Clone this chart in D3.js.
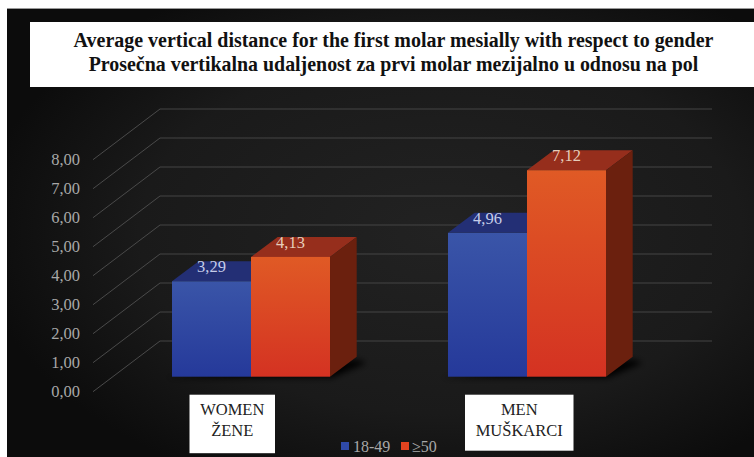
<!DOCTYPE html>
<html><head><meta charset="utf-8">
<script src="https://cdn.jsdelivr.net/npm/d3@7"></script>
<style>html,body{margin:0;padding:0;background:#fff;overflow:hidden}svg{display:block}</style>
</head><body><svg id="c" width="754" height="457"></svg>
<script>
const titleLines = ["Average vertical distance for the first molar mesially with respect to gender","Prosečna vertikalna udaljenost za prvi molar mezijalno u odnosu na pol"];
const categories = ["women","men"];
const categoryLines = [["WOMEN","ŽENE"],["MEN","MUŠKARCI"]];
const seriesNames = ["18-49","≥50"];
const values1849 = [3.29,4.96];
const values50 = [4.13,7.12];
const yTicks = [0,1,2,3,4,5,6,7,8];

const fmt = v => d3.format(".2f")(v).replace(".", ",");
const svg = d3.select("#c"), defs = svg.append("defs");
const grad = (id, a, b) => { const g = defs.append("linearGradient").attr("id", id).attr("x1",0).attr("x2",0).attr("y1",0).attr("y2",1);
  g.append("stop").attr("offset",0).attr("stop-color",a); g.append("stop").attr("offset",1).attr("stop-color",b); };
grad("gb","#3a55a8","#25399a"); grad("gr","#e05a25","#d43222");
const rg = defs.append("radialGradient").attr("id","bg").attr("cx",.58).attr("cy",.5).attr("r",.62);
rg.append("stop").attr("offset",0).attr("stop-color","#222222");
rg.append("stop").attr("offset",.65).attr("stop-color","#1a1a1a");
rg.append("stop").attr("offset",1).attr("stop-color","#0c0c0c");
defs.append("filter").attr("id","blur").attr("x","-20%").attr("y","-100%").attr("width","140%").attr("height","300%")
  .append("feGaussianBlur").attr("stdDeviation",3);

// frame
svg.append("rect").attr("x",7).attr("y",8).attr("width",747).attr("height",449).attr("fill","url(#bg)");
svg.append("rect").attr("x",7).attr("y",8).attr("width",747).attr("height",1).attr("fill","#999");

const y = d3.scaleLinear().domain([0,8]).range([376.7,144.7]);
const x0 = d3.scaleBand().domain(categories).range([172,606]).paddingInner(0.4275).paddingOuter(0);
const x1 = d3.scaleBand().domain(seriesNames).range([0,x0.bandwidth()]);

// walls
const frontDy = 15, backDy = -35.7, wallL = 160, wallR = 712, tickX = 93;
const grid = svg.append("g").attr("fill","none");
grid.selectAll(".side").data(yTicks).join("line").attr("x1",tickX).attr("y1",d=>y(d)+frontDy).attr("x2",wallL).attr("y2",d=>y(d)+backDy)
  .attr("stroke","#4a4a4a").attr("stroke-width",1);
grid.selectAll(".back").data(yTicks).join("line").attr("x1",wallL).attr("x2",wallR).attr("y1",d=>y(d)+backDy).attr("y2",d=>y(d)+backDy)
  .attr("stroke","#444444").attr("stroke-width",1.2);

// y axis labels
const ax = svg.append("g").attr("transform",`translate(80,${frontDy})`)
  .call(d3.axisLeft(y).tickValues(yTicks).tickFormat(fmt).tickSize(0).tickPadding(0));
ax.select(".domain").remove();
ax.selectAll("text").attr("font-family","'Liberation Serif',serif").attr("font-size",16.5).attr("fill","#a8a8a8");

// bars
const depthX = 26.7, depthY = 20;
const pts = a => a.map(p=>p.join(",")).join(" ");
const styles = {"18-49":{fill:"url(#gb)",top:"#232f75",side:"#1c2660",label:"#c5cce8"},"≥50":{fill:"url(#gr)",top:"#962e1c",side:"#6b200e",label:"#e6cdbb"}};
const rows = categories.flatMap((c,i)=>[{c,s:seriesNames[0],v:values1849[i]},{c,s:seriesNames[1],v:values50[i]}]);

svg.append("g").selectAll("polygon").data(categories).join("polygon")
  .attr("points",c=>{const l=x0(c)-8,r=x0(c)+x0.bandwidth(),b=y(0);return pts([[l,b+1],[r+2,b+1],[r+depthX+10,b-depthY+6],[r+depthX,b-depthY+3]]);})
  .attr("fill","#050505").attr("filter","url(#blur)");

const bars = svg.append("g").selectAll("g").data(rows).join("g");
bars.append("polygon").attr("fill",d=>styles[d.s].top).attr("points",d=>{const l=x0(d.c)+x1(d.s),r=l+x1.bandwidth(),t=y(d.v);
  return pts([[l,t],[r,t],[r+depthX,t-depthY],[l+depthX,t-depthY]]);});
bars.append("polygon").attr("fill",d=>styles[d.s].side).attr("points",d=>{const r=x0(d.c)+x1(d.s)+x1.bandwidth(),t=y(d.v),b=y(0);
  return pts([[r,t],[r+depthX,t-depthY],[r+depthX,b-depthY],[r,b]]);});
bars.append("rect").attr("x",d=>x0(d.c)+x1(d.s)).attr("width",x1.bandwidth()).attr("y",d=>y(d.v)).attr("height",d=>y(0)-y(d.v)).attr("fill",d=>styles[d.s].fill);
svg.append("g").selectAll("text").data(rows).join("text")
  .attr("x",d=>x0(d.c)+x1(d.s)+x1.bandwidth()/2).attr("y",d=>y(d.v)-15).attr("dy","0.35em").attr("text-anchor","middle")
  .attr("font-family","'Liberation Serif',serif").attr("font-size",16.5).attr("fill",d=>styles[d.s].label).text(d=>fmt(d.v));

// title: squeezed horizontally to the reference's line widths
svg.append("rect").attr("x",30).attr("y",22).attr("width",724).attr("height",65).attr("fill","#fff");
const titleWidths = [640,610];
svg.append("g").selectAll("text").data(titleLines).join("text")
  .attr("text-anchor","middle").attr("font-family","'Liberation Serif',serif").attr("font-weight","bold").attr("font-size",22)
  .attr("fill","#111").text(d=>d)
  .attr("transform",function(d,i){ const k=titleWidths[i]/this.getComputedTextLength(); return `translate(393.5,${i?71:46.5}) scale(${k},1)`; });

// category boxes
const boxes = [{x:189.5,w:85.5,h:58.5},{x:465,w:108.5,h:56}];
const cg = svg.append("g").selectAll("g").data(categories).join("g").attr("transform",(d,i)=>`translate(${boxes[i].x},394.7)`);
cg.append("rect").attr("width",(d,i)=>boxes[i].w).attr("height",(d,i)=>boxes[i].h).attr("fill","#fff");
cg.each(function(d,i){ d3.select(this).selectAll("text").data(categoryLines[i]).join("text")
  .attr("x",boxes[i].w/2).attr("y",(t,j)=>14.5+j*21).attr("dy","0.35em").attr("text-anchor","middle")
  .attr("font-family","'Liberation Serif',serif").attr("font-size",16.5).attr("fill","#222").text(t=>t); });

// legend
const lg = svg.append("g").selectAll("g").data(seriesNames).join("g").attr("transform",(d,i)=>`translate(${i?401:341},442)`);
lg.append("rect").attr("width",8).attr("height",8).attr("fill",(d,i)=>i?"#e2431f":"#2f4aa8");
lg.append("text").attr("x",(d,i)=>i?11:12).attr("y",4).attr("dy","0.35em").attr("font-family","'Liberation Serif',serif").attr("font-size",16).attr("fill","#a8a8a8").text(d=>d);
</script></body></html>
